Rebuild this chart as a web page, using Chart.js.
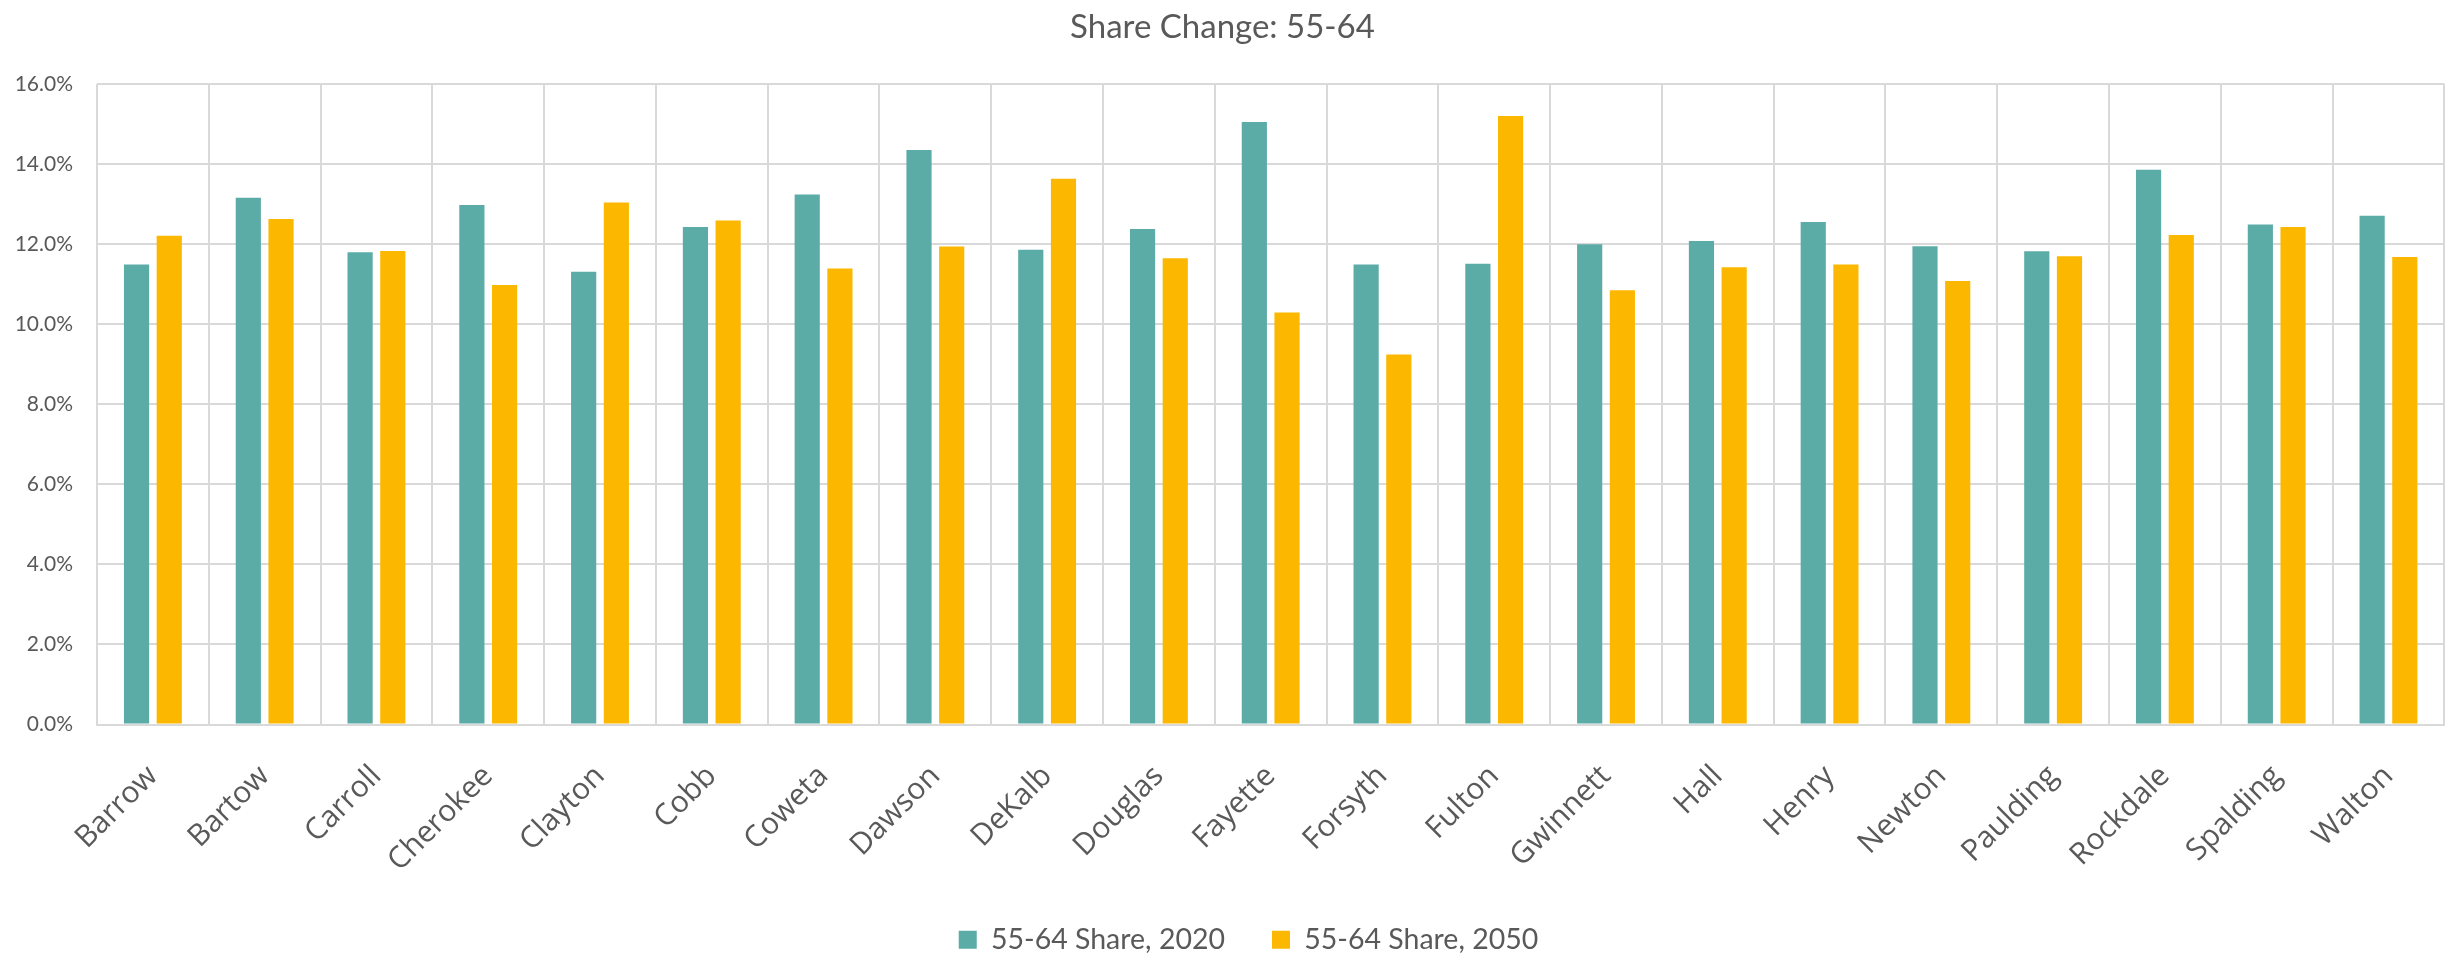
<!DOCTYPE html>
<html>
<head>
<meta charset="utf-8">
<script src="https://cdn.jsdelivr.net/npm/chart.js@4"></script>
<style>
  html, body { margin: 0; padding: 0; background: #fff; }
  #wrap { width: 2448px; height: 953px; }
</style>
</head>
<body>
<div id="wrap"><canvas id="chart" width="2448" height="953"></canvas></div>
<script>
// counties on the x axis
const COUNTIES = [
  'Barrow', 'Bartow', 'Carroll', 'Cherokee', 'Clayton', 'Cobb', 'Coweta',
  'Dawson', 'DeKalb', 'Douglas', 'Fayette', 'Forsyth', 'Fulton', 'Gwinnett',
  'Hall', 'Henry', 'Newton', 'Paulding', 'Rockdale', 'Spalding', 'Walton'
];

// share of population aged 55-64 (percent)
const SHARE_2020 = [
  11.49, 13.16, 11.80, 12.98, 11.31, 12.43, 13.24,
  14.35, 11.86, 12.38, 15.05, 11.49, 11.51, 12.00,
  12.08, 12.55, 11.95, 11.82, 13.86, 12.49, 12.71
];
const SHARE_2050 = [
  12.21, 12.63, 11.83, 10.98, 13.04, 12.59, 11.39,
  11.94, 13.63, 11.65, 10.29, 9.24, 15.20, 10.85,
  11.42, 11.49, 11.08, 11.70, 12.23, 12.43, 11.68
];

const COLORS = {
  teal: '#5BABA7',
  gold: '#FCB700',
  grid: '#D9D9D9',
  text: '#595959'
};

const LABEL_FONT = 'Lato, "Noto Sans", sans-serif';

// chart.js leaves the trailing item padding on the right, so nudge the legend back
const legendNudge = {
  id: 'legendNudge',
  afterLayout(chart) {
    chart.legend.left += 26;
    chart.legend.right += 26;
  }
};

new Chart(document.getElementById('chart'), {
  type: 'bar',
  data: {
    labels: COUNTIES,
    datasets: [
      {
        label: '55-64 Share, 2020',
        data: SHARE_2020,
        backgroundColor: COLORS.teal,
        borderWidth: 0,
        categoryPercentage: 0.585,
        barPercentage: 0.77
      },
      {
        label: '55-64 Share, 2050',
        data: SHARE_2050,
        backgroundColor: COLORS.gold,
        borderWidth: 0,
        categoryPercentage: 0.585,
        barPercentage: 0.77
      }
    ]
  },
  options: {
    responsive: false,
    animation: false,
    layout: { padding: { left: 0, right: 3, top: 0, bottom: -11 } },
    plugins: {
      title: {
        display: true,
        text: 'Share Change: 55-64',
        color: COLORS.text,
        font: { family: LABEL_FONT, size: 33, weight: 'normal' },
        padding: { top: 8, bottom: 36.4 }
      },
      legend: {
        position: 'bottom',
        labels: {
          color: COLORS.text,
          font: { family: LABEL_FONT, size: 28.5 },
          boxWidth: 18,
          boxHeight: 18,
          padding: 47
        }
      },
      tooltip: { enabled: false }
    },
    scales: {
      x: {
        grid: { color: COLORS.grid, lineWidth: 2, drawTicks: false },
        border: { color: COLORS.grid, width: 2 },
        ticks: {
          color: COLORS.text,
          font: { family: '"Open Sans", sans-serif', size: 30 },
          minRotation: 45,
          maxRotation: 45,
          autoSkip: false,
          padding: 34
        },
        // plot bottom sits at 724px, legend takes the rest
        afterFit(scale) { scale.height = 154; }
      },
      y: {
        min: 0,
        max: 16,
        grid: { color: COLORS.grid, lineWidth: 2, drawTicks: false },
        border: { display: false },
        ticks: {
          stepSize: 2,
          color: COLORS.text,
          font: { family: LABEL_FONT, size: 21 },
          padding: 24,
          callback: v => v.toFixed(1) + '%'
        },
        afterFit(scale) { scale.width = 97; }
      }
    }
  },
  plugins: [legendNudge]
});
</script>
</body>
</html>
